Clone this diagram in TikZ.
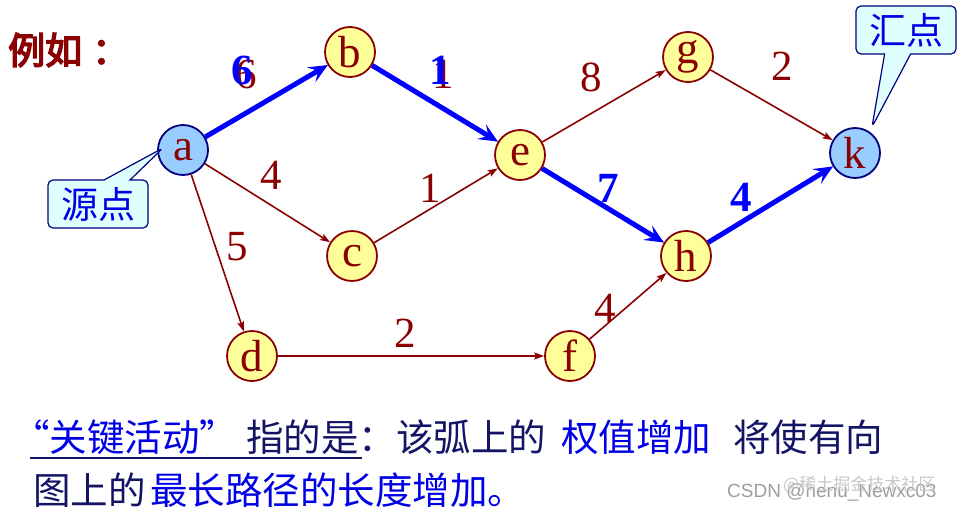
\documentclass[tikz,border=0pt]{standalone}
\usepackage{fontspec}
\setmainfont{Liberation Serif}
\newfontfamily\cjk{Noto Sans CJK SC}
\newfontfamily\cjkb[FakeBold=4]{Noto Sans CJK SC}
\newfontfamily\wmfont{Liberation Sans}
\usetikzlibrary{arrows.meta,shapes.callouts}
\definecolor{dred}{HTML}{8B0000}
\definecolor{nodey}{HTML}{FFFF99}
\definecolor{nodeb}{HTML}{99CCFF}
\definecolor{nblue}{HTML}{000080}
\definecolor{navy}{HTML}{141466}
\definecolor{tblue}{HTML}{0000E6}
\definecolor{calfill}{HTML}{DFFFFF}
\begin{document}
\begin{tikzpicture}[x=1pt,y=-1pt,
  vert/.style={circle,draw=dred,fill=nodey,line width=1.8pt,minimum size=50pt,inner sep=0pt,text=dred,font=\fontsize{45}{45}\selectfont},
  endv/.style={vert,draw=nblue,fill=nodeb},
  redge/.style={draw=dred,line width=1.6pt,-{Stealth[length=10pt,width=7pt,inset=2pt]}},
  bedge/.style={draw=blue,line width=5pt,-{Stealth[length=19pt,width=17pt,inset=8pt]}},
  wlab/.style={text=dred,font=\fontsize{43}{43}\selectfont,inner sep=0pt},
  blab/.style={text=blue,font=\bfseries\fontsize{43}{43}\selectfont,inner sep=0pt},
  callbox/.style={rectangle callout,draw=nblue,fill=calfill,rounded corners=5pt,line width=1.2pt,minimum width=100pt,minimum height=48pt,inner sep=0pt,text=tblue,font=\cjk\fontsize{37}{37}\selectfont,callout pointer width=26pt},
  ctext/.style={anchor=base west,inner sep=0pt,font=\cjk\fontsize{37.5}{37.5}\selectfont},
  wm/.style={anchor=base west,inner sep=0pt}
]
\useasboundingbox (0,0) rectangle (957,511);

% title
\node[anchor=base west,inner sep=0pt,text=dred,font=\cjkb\fontsize{37}{37}\selectfont] (title) at (8,64) {例如\hspace{10pt}：};

% vertices
\node[endv] (a) at (183,150) {a};
\node[vert] (b) at (350,52) {b};
\node[vert] (c) at (352,256) {c};
\node[vert] (d) at (252,356) {d};
\node[vert] (e) at (520,155) {e};
\node[vert] (f) at (570,356) {f};
\node[vert] (g) at (688,57) {g};
\node[vert] (h) at (686,256) {h};
\node[endv] (k) at (855,153) {k};

% red edges
\draw[redge] (a) -- (b);
\draw[redge] (a) -- (c);
\draw[redge] (a) -- (d);
\draw[redge] (b) -- (e);
\draw[redge] (c) -- (e);
\draw[redge] (d) -- (f);
\draw[redge] (e) -- (g);
\draw[redge] (e) -- (h);
\draw[redge] (f) -- (h);
\draw[redge] (g) -- (k);
\draw[redge] (h) -- (k);

% critical (blue) edges
\draw[bedge] (a) -- (b);
\draw[bedge] (b) -- (e);
\draw[bedge] (e) -- (h);
\draw[bedge] (h) -- (k);

% weights
\node[wlab] (wab0) at (246,74) {6};
\node[blab] (wab) at (242,70) {6};
\node[wlab] (wbe0) at (443,74) {1};
\node[blab] (wbe) at (440,70) {1};
\node[wlab] (wac) at (271,175) {4};
\node[wlab] (wad) at (237,247) {5};
\node[wlab] (wce) at (430,188) {1};
\node[wlab] (weg) at (591,77) {8};
\node[wlab] (wgk) at (782,66) {2};
\node[blab] (weh) at (608,188) {7};
\node[blab] (whk) at (741,197) {4};
\node[wlab] (wdf) at (405,333) {2};
\node[wlab] (wfh) at (605,308) {4};

% callouts
\coordinate (srcptr) at (163,148);
\coordinate (snkptr) at (872,127);
\node[callbox,callout absolute pointer=(srcptr)] (src) at (98,204) {源点};
\node[callbox,callout absolute pointer=(snkptr)] (snk) at (906,30) {汇点};

% bottom text
\node[ctext,text=tblue] (t1) at (12,451) {“关键活动”};
\node[ctext,text=navy] (t2) at (246,451) {指的是：该弧上的};
\node[ctext,text=tblue] (t3) at (561,451) {权值增加};
\node[ctext,text=navy] (t4) at (733,451) {将使有向};
\node[ctext,text=navy] (t5) at (33,504) {图上的};
\node[ctext,text=tblue] (t6) at (150,504) {最长路径的长度增加。};
\coordinate (ul1) at (30,458);
\coordinate (ul2) at (362,458);
\draw[navy,line width=2pt] (ul1) -- (ul2);

% watermark
\node[wm,text=black!38,font=\wmfont\fontsize{19}{19}\selectfont] (wm1) at (727,497) {CSDN @henu\_Newxc03};
\node[wm,text=black!22,font=\cjk\fontsize{17}{17}\selectfont] (wm2) at (783,490) {@稀土掘金技术社区};
\end{tikzpicture}
\end{document}
